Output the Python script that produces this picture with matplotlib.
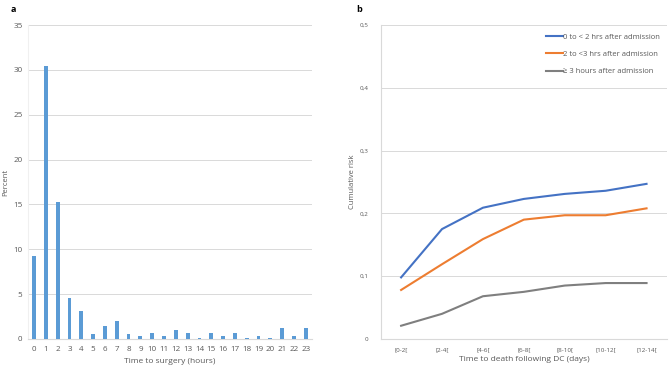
import matplotlib.pyplot as plt
import numpy as np

# panel a: time to surgery distribution
hours = [str(h) for h in range(24)]
percent = [9.2, 30.4, 15.3, 4.6, 3.1, 0.5, 1.4, 2.0, 0.5, 0.3, 0.7, 0.3,
           1.0, 0.7, 0.15, 0.7, 0.3, 0.7, 0.1, 0.3, 0.15, 1.2, 0.3, 1.2]

# panel b: cumulative risk by time to death
intervals = ['[0-2[', '[2-4[', '[4-6[', '[6-8[', '[8-10[', '[10-12[', '[12-14[']
risk_lt2 = [0.098, 0.175, 0.209, 0.223, 0.231, 0.236, 0.247]
risk_2to3 = [0.078, 0.119, 0.159, 0.190, 0.197, 0.197, 0.208]
risk_ge3 = [0.021, 0.040, 0.068, 0.075, 0.085, 0.089, 0.089]
series_labels = ['0 to < 2 hrs after admission', '2 to <3 hrs after admission',
                 '\u2265 3 hours after admission']

plt.rcParams['font.family'] = ['Open Sans', 'DejaVu Sans']
text_col = '#595959'
grid_col = '#D9D9D9'

fig = plt.figure(figsize=(6.69, 3.68), dpi=100)
fig.patch.set_facecolor('white')

# ---- panel a
ax1 = fig.add_axes([0.042, 0.079, 0.424, 0.853])
x = np.arange(len(hours))
ax1.bar(x, percent, width=0.32, color='#5B9BD5', zorder=3)
ax1.set_xlim(-0.5, len(hours) - 0.5)
ax1.set_ylim(0, 35)
ax1.set_yticks(range(0, 36, 5))
ax1.set_xticks(x)
ax1.set_xticklabels(hours)
ax1.grid(axis='y', color=grid_col, linewidth=0.7, zorder=0)
ax1.set_xlabel('Time to surgery (hours)', fontsize=6, color=text_col, labelpad=4)
ax1.set_ylabel('Percent', fontsize=5.5, color=text_col)
ax1.yaxis.set_label_coords(-0.066, 0.5)
for s in ['top', 'right']:
    ax1.spines[s].set_visible(False)
ax1.spines['left'].set_color('#F0F0F0')
ax1.spines['bottom'].set_color(grid_col)
ax1.tick_params(axis='x', length=0, labelsize=5.8, labelcolor=text_col, pad=5)
ax1.tick_params(axis='y', length=0, labelsize=5.8, labelcolor=text_col, pad=4)
fig.text(0.016, 0.975, 'a', fontsize=6.5, fontweight='bold', va='center')

# ---- panel b
ax2 = fig.add_axes([0.569, 0.079, 0.428, 0.853])
xi = np.arange(len(intervals))
ax2.plot(xi, risk_lt2, color='#4472C4', linewidth=1.5, label=series_labels[0], zorder=3)
ax2.plot(xi, risk_2to3, color='#ED7D31', linewidth=1.5, label=series_labels[1], zorder=3)
ax2.plot(xi, risk_ge3, color='#7F7F7F', linewidth=1.5, label=series_labels[2], zorder=3)
ax2.set_xlim(-0.5, len(intervals) - 0.5)
ax2.set_ylim(0, 0.5)
yt = [0, 0.1, 0.2, 0.3, 0.4, 0.5]
ax2.set_yticks(yt)
ax2.set_yticklabels(['0'] + [('%.1f' % v).replace('.', ',') for v in yt[1:]])
ax2.set_xticks(xi)
ax2.set_xticklabels(intervals)
ax2.grid(axis='y', color=grid_col, linewidth=0.7, zorder=0)
ax2.set_xlabel('Time to death following DC (days)', fontsize=6, color=text_col, labelpad=3)
ax2.set_ylabel('Cumulative risk', fontsize=5.5, color=text_col, labelpad=2)
for s in ['top', 'right']:
    ax2.spines[s].set_visible(False)
ax2.spines['left'].set_color(grid_col)
ax2.spines['bottom'].set_color(grid_col)
ax2.tick_params(axis='y', length=0, labelsize=4.5, labelcolor=text_col, pad=9)
ax2.tick_params(axis='x', length=0, labelsize=4.5, labelcolor=text_col, pad=6)
leg = ax2.legend(loc='upper right', bbox_to_anchor=(1.0, 0.995), frameon=False,
                 fontsize=5.5, labelcolor=text_col, handlelength=2.2,
                 handletextpad=0.0, labelspacing=1.3)
fig.text(0.532, 0.975, 'b', fontsize=6.5, fontweight='bold', va='center')

fig.savefig('out.png', dpi=100, facecolor='white')
